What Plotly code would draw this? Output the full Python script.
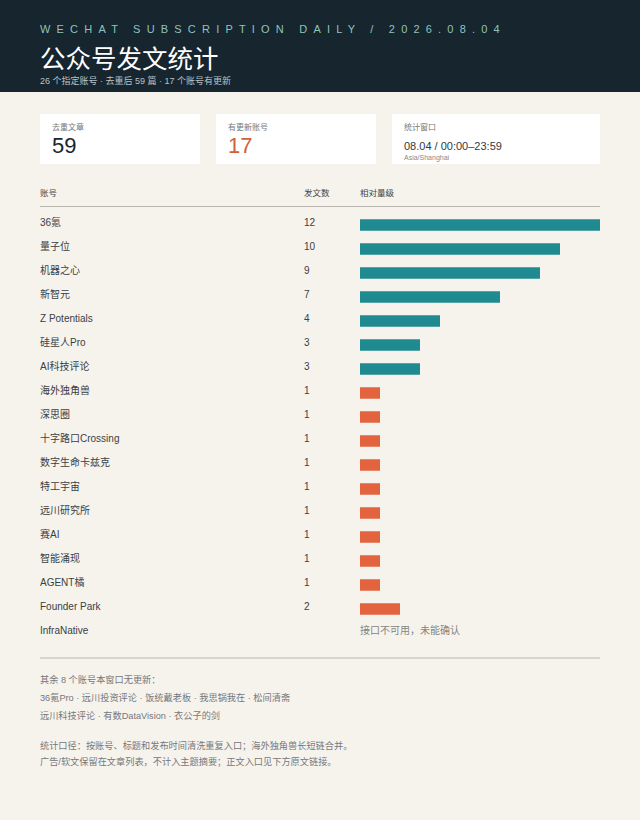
import plotly.graph_objects as go

W, H = 640, 820
FONT = "Liberation Sans, Noto Sans CJK SC, sans-serif"

# 数据
accounts = ["36氪", "量子位", "机器之心", "新智元", "Z Potentials", "硅星人Pro", "AI科技评论",
            "海外独角兽", "深思圈", "十字路口Crossing", "数字生命卡兹克", "特工宇宙", "远川研究所",
            "赛AI", "智能涌现", "AGENT橘", "Founder Park", "InfraNative"]
counts = [12, 10, 9, 7, 4, 3, 3, 1, 1, 1, 1, 1, 1, 1, 1, 1, 2, None]
cards = [("去重文章", "59"), ("有更新账号", "17"), ("统计窗口", "08.04 / 00:00–23:59")]
notes = ["其余 8 个账号本窗口无更新：",
         "36氪Pro · 远川投资评论 · 饭统戴老板 · 我思锅我在 · 松间清斋",
         "远川科技评论 · 有数DataVision · 衣公子的剑",
         "统计口径：按账号、标题和发布时间清洗重复入口；海外独角兽长短链合并。",
         "广告/软文保留在文章列表，不计入主题摘要；正文入口见下方原文链接。"]
note_y = [679, 697, 715, 745, 761]

TEAL = "#1f8a8f"
ORANGE = "#e4633f"
colors = [TEAL if (c or 0) >= 3 else ORANGE for c in counts]


def py(y):
    # 像素 y 转 paper 坐标
    return 1 - y / H


def label(x, y, text, size, color):
    fig.add_annotation(xref="paper", yref="paper", x=x / W, y=py(y), text=text, showarrow=False,
                       xanchor="left", yanchor="middle", align="left", borderpad=0, borderwidth=0,
                       font=dict(size=size, color=color, family=FONT))


def row_label(x, name, text, color):
    fig.add_annotation(xref="paper", yref="y", x=x / W, y=name, yshift=3, text=text, showarrow=False,
                       xanchor="left", borderpad=0, borderwidth=0,
                       font=dict(size=10, color=color, family=FONT))


def box(x0, y0, x1, y1, color):
    fig.add_shape(type="rect", xref="paper", yref="paper", x0=x0 / W, x1=x1 / W, y0=py(y0), y1=py(y1),
                  fillcolor=color, line_width=0, layer="below")


def rule(y):
    fig.add_shape(type="line", xref="paper", yref="paper", x0=40 / W, x1=600 / W, y0=py(y), y1=py(y),
                  line=dict(color="#b9b6af", width=1), layer="below")


fig = go.Figure(go.Bar(y=accounts, x=counts, orientation="h", width=0.48,
                       marker=dict(color=colors, line_width=0), hoverinfo="x+y"))

fig.update_layout(
    width=W, height=H, margin=dict(l=0, r=0, t=0, b=0),
    paper_bgcolor="#f6f3ed", plot_bgcolor="#f6f3ed", showlegend=False,
    xaxis=dict(domain=[360 / W, 600 / W], range=[0, 12], visible=False),
    yaxis=dict(domain=[py(645), py(213)], range=[17.5, -0.5], visible=False, type="category",
               categoryorder="array", categoryarray=accounts),
)

# 页眉
box(0, 0, W, 92, "#16252e")
label(40, 29, "WECHAT SUBSCRIPTION DAILY / 2026.08.04", 11, "#8fc4bd")
label(40, 59, "公众号发文统计", 25.5, "#ffffff")
label(40, 81, "26 个指定账号 · 去重后 59 篇 · 17 个账号有更新", 9, "#b9c3c6")

# 指标卡
box(40, 114, 200, 164, "#ffffff")
box(216, 114, 376, 164, "#ffffff")
box(392, 114, 600, 164, "#ffffff")
label(52, 127, cards[0][0], 8, "#77777a")
label(52, 146, cards[0][1], 22, "#1d2529")
label(228, 127, cards[1][0], 8, "#77777a")
label(228, 146, cards[1][1], 22, "#cf5f3d")
label(404, 127, cards[2][0], 8, "#77777a")
label(404, 146, cards[2][1], 11, "#33393d")
label(404, 157.5, "Asia/Shanghai", 7, "#8a8a88")

# 表头
label(40, 193, "账号", 8.5, "#444")
label(304, 193, "发文数", 8.5, "#444")
label(360, 193, "相对量级", 8.5, "#444")
rule(206.5)
rule(658)

# 每行的账号名与数量
for name, c in zip(accounts, counts):
    row_label(40, name, name, "#3a4044")
    if c is None:
        row_label(360, name, "接口不可用，未能确认", "#85857f")
    else:
        row_label(304, name, str(c), "#3a4044")

# 脚注
for t, y in zip(notes, note_y):
    label(40, y, t, 9.2, "#77777a")

# 页面留白去掉，眉题加字距
post = """
document.documentElement.style.overflow = 'hidden';
document.body.style.margin = '0';
document.querySelectorAll('.annotation-text').forEach(function (el) {
    if (el.textContent.indexOf('WECHAT') === 0) { el.style.letterSpacing = '6.2px'; }
});
"""
fig.write_html("out.html", post_script=post, config=dict(displayModeBar=False))
